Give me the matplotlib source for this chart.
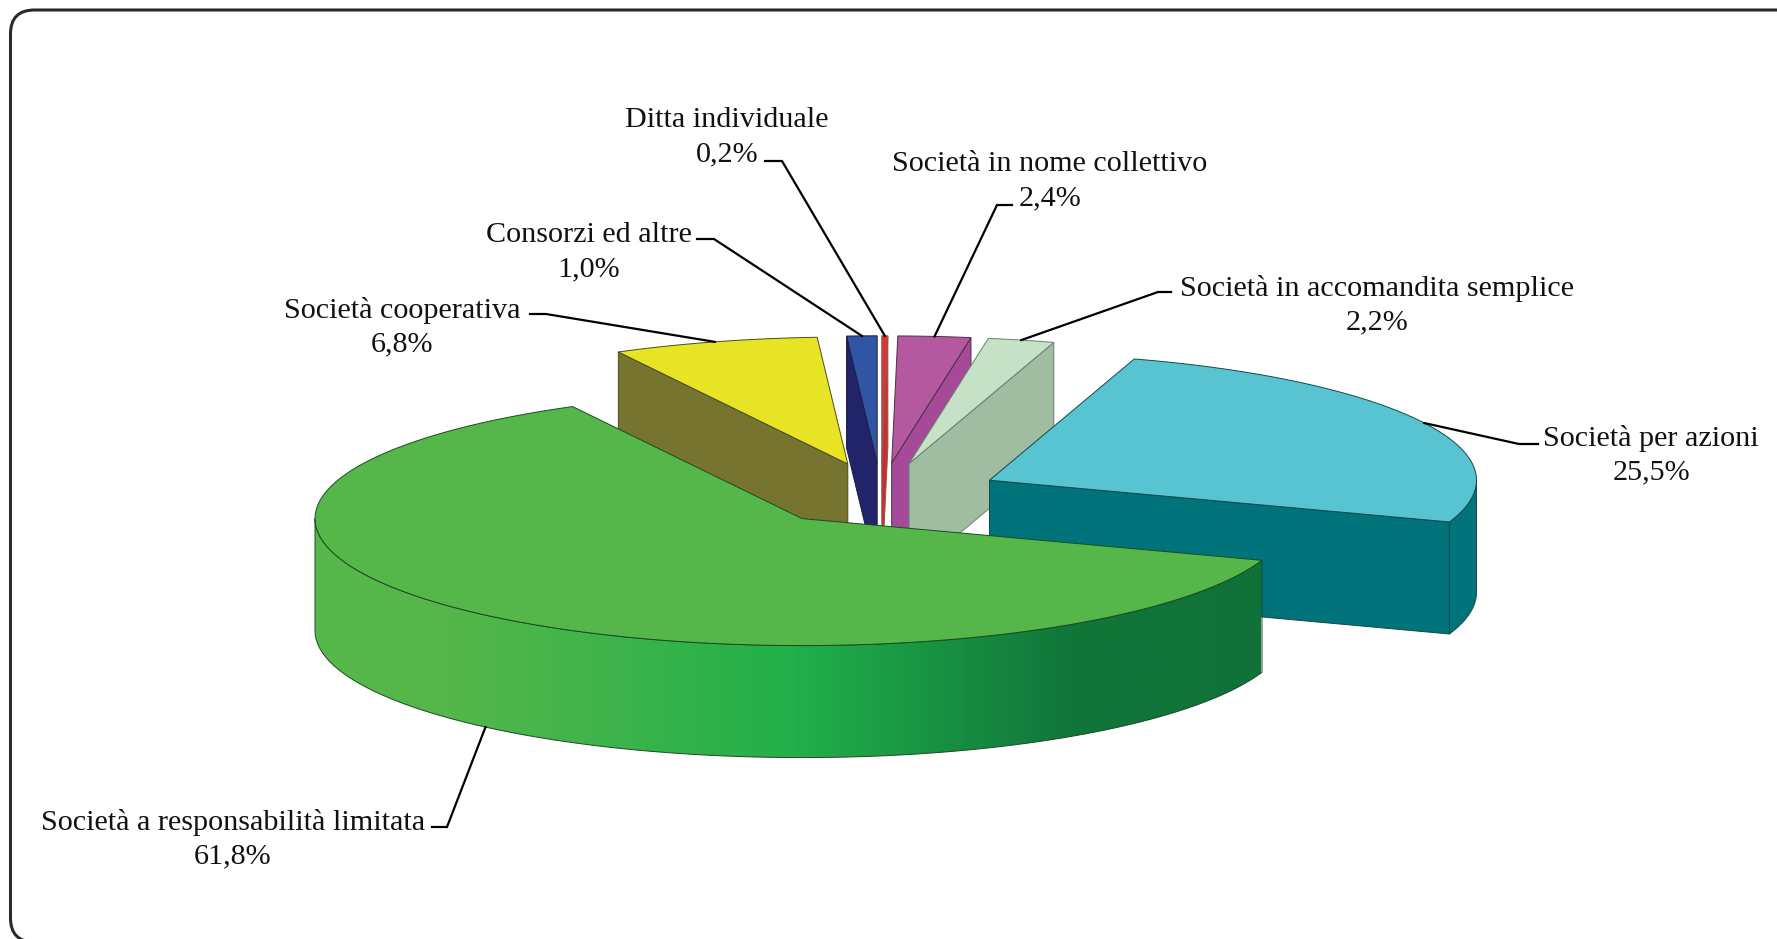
import numpy as np
import matplotlib
matplotlib.use("Agg")
import matplotlib.pyplot as plt
from matplotlib.colors import LinearSegmentedColormap
from matplotlib.patches import FancyBboxPatch, Polygon

# clockwise from the top of the pie
categories = ["Ditta individuale", "Società in nome collettivo", "Società in accomandita semplice",
              "Società per azioni", "Società a responsabilità limitata", "Società cooperativa",
              "Consorzi ed altre"]
values = [0.2, 2.4, 2.2, 25.5, 61.8, 6.8, 1.0]

top_colors = ["#e0352b", "#b4589f", "#c5e2c7", "#58c4d1", "#55b74a", "#e7e426", "#3055a4"]
wall_colors = ["#c9302a", "#a54a98", "#a0bda2", "#00747a", "#55b74a", "#76742f", "#22246a"]
edge_colors = ["#8a5a55", "#4a3048", "#6d7f6e", "#12484c", "#1d4a22", "#4a4a20", "#1c1c40"]

# back to front
draw_order = [0, 6, 1, 2, 5, 3, 4]

# pie geometry in pixels
center_x, center_y = 881, 494.5
radius_x, radius_y = 487, 127
depth = 112
explode = 0.2495
start_angle = 90.0

# text centre, elbow start, elbow end
label_layout = [
    ((727, 137), (765, 161), (782, 161)),
    ((1050, 181), (1012, 205), (997, 205)),
    ((1377, 302 + 3), (1171, 292), (1158, 292)),
    ((1651, 455), (1538, 444), (1519, 444)),
    ((233, 837 + 2), (432, 827), (447, 827)),
    ((402, 327), (530, 314), (546, 314)),
    ((589, 249 + 3), (697, 239), (714, 239)),
]

plt.rcParams["font.family"] = ["Liberation Serif", "DejaVu Serif"]

fig = plt.figure(figsize=(17.77, 9.39), dpi=100)
ax = fig.add_axes([0, 0, 1, 1])
ax.axis("off")

frame = FancyBboxPatch((10.5, 10), 1790, 932, boxstyle="round,pad=0,rounding_size=24",
                       facecolor="white", edgecolor="#2b2b2b", linewidth=2.2, zorder=1)
ax.add_patch(frame)


def arc(apex, t1, t2, n=120):
    t = np.radians(np.linspace(t1, t2, n))
    return np.column_stack((apex[0] + radius_x * np.cos(t), apex[1] - radius_y * np.sin(t)))


def wall(apex, t, face, edge, z):
    p = arc(apex, t, t, 1)[0]
    pts = [apex, p, (p[0], p[1] + depth), (apex[0], apex[1] + depth)]
    ax.add_patch(Polygon(pts, closed=True, facecolor=face, edgecolor=edge, linewidth=0.7, zorder=z))


shares = np.array(values) / sum(values) * 360
ends = start_angle - np.cumsum(shares)
starts = ends + shares

green_cmap = LinearSegmentedColormap.from_list(
    "rim", [(0, "#57b84b"), (0.14, "#55b74a"), (0.506, "#22b04b"), (0.8, "#10763a"), (1, "#107238")])

z = 3
for i in draw_order:
    t1, t2 = ends[i], starts[i]
    mid = np.radians((t1 + t2) / 2)
    apex = (center_x + explode * radius_x * np.cos(mid), center_y - explode * radius_y * np.sin(mid))

    if np.cos(np.radians(t1)) > 0:
        wall(apex, t1, wall_colors[i], edge_colors[i], z)
    if np.cos(np.radians(t2)) < 0:
        wall(apex, t2, wall_colors[i], edge_colors[i], z)

    # outer rim, only the part facing the viewer
    lo, hi = max(t1, -180), min(t2, 0)
    if lo < hi:
        front = arc(apex, lo, hi)
        back = front[::-1] + (0, depth)
        rim_pts = np.vstack((front, back))
        if categories[i] == "Società a responsabilità limitata":
            rim = Polygon(rim_pts, closed=True, facecolor="none", edgecolor="none", zorder=z)
            ax.add_patch(rim)
            grad = ax.imshow(np.linspace(0, 1, 600).reshape(1, -1), cmap=green_cmap, aspect="auto",
                             extent=(314, 1261, 800, 500), zorder=z)
            grad.set_clip_path(rim)
            ax.add_patch(Polygon(rim_pts, closed=True, facecolor="none", edgecolor=edge_colors[i],
                                 linewidth=0.7, zorder=z))
        else:
            ax.add_patch(Polygon(rim_pts, closed=True, facecolor=wall_colors[i], edgecolor=edge_colors[i],
                                 linewidth=0.7, zorder=z))

    top = np.vstack(([apex], arc(apex, t1, t2)))
    ax.add_patch(Polygon(top, closed=True, facecolor=top_colors[i], edgecolor=edge_colors[i],
                         linewidth=0.7, zorder=z))

    # label and leader
    text_pos, elbow_a, elbow_b = label_layout[i]
    pct = f"{values[i]:.1f}".replace(".", ",") + "%"
    ax.text(text_pos[0], text_pos[1], categories[i] + "\n" + pct, ha="center", va="center",
            multialignment="center", fontsize=21.7, linespacing=1.4, color="#111111", zorder=30)
    anchor = arc(apex, np.degrees(mid), np.degrees(mid), 1)[0]
    if np.sin(mid) < 0:
        anchor = anchor + (0, depth)
    ax.plot([elbow_a[0], elbow_b[0], anchor[0]], [elbow_a[1], elbow_b[1], anchor[1]],
            color="black", linewidth=1.6, solid_joinstyle="miter", zorder=29)
    z += 1

ax.set_xlim(0, 1777)
ax.set_ylim(939, 0)

fig.savefig("out.png", dpi=100)
